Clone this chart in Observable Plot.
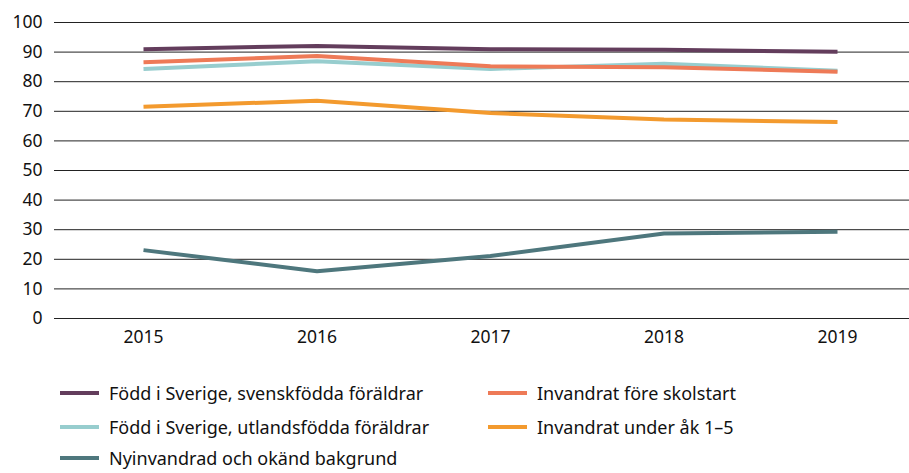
<!DOCTYPE html>
<html>
<head>
<meta charset="utf-8">
<script src="https://cdn.jsdelivr.net/npm/d3@7"></script>
<script src="https://cdn.jsdelivr.net/npm/@observablehq/plot@0.6"></script>
<style>
  html, body { margin: 0; padding: 0; background: #fff; }
  body { width: 909px; height: 473px; overflow: hidden; font-family: "Noto Sans", sans-serif; color: #111; }
  #legend { position: relative; height: 94px; margin-top: 23px; font-size: 18px; }
  .item { position: absolute; display: flex; align-items: center; height: 30px; line-height: 22px; white-space: nowrap; }
  .sw { width: 39px; height: 4px; margin-right: 10px; }
</style>
</head>
<body>
<div id="chart"></div>
<div id="legend"></div>
<script>
const years = [2015, 2016, 2017, 2018, 2019];
const seriesNames = [
  "Född i Sverige, svenskfödda föräldrar",
  "Född i Sverige, utlandsfödda föräldrar",
  "Invandrat före skolstart",
  "Invandrat under åk 1–5",
  "Nyinvandrad och okänd bakgrund"
];
const svenskfodda = [91.0, 92.1, 91.0, 90.8, 90.1];
const utlandsfodda = [84.3, 86.9, 84.3, 86.1, 83.7];
const foreSkolstart = [86.6, 88.7, 85.2, 84.9, 83.4];
const underAk15 = [71.5, 73.6, 69.4, 67.2, 66.4];
const nyinvandrad = [23.1, 16.0, 21.1, 28.7, 29.3];
const yTicks = [0, 10, 20, 30, 40, 50, 60, 70, 80, 90, 100];
const colors = ["#633d5c", "#97cdce", "#ee7a57", "#f39a2e", "#4e777d"];

const seriesValues = [svenskfodda, utlandsfodda, foreSkolstart, underAk15, nyinvandrad];
const data = seriesValues.flatMap((vals, i) =>
  years.map((yr, j) => ({year: yr, value: vals[j], series: seriesNames[i]})));

const plot = Plot.plot({
  width: 909,
  height: 355,
  marginLeft: 54,
  marginRight: 0,
  marginTop: 22,
  marginBottom: 37,
  style: {fontFamily: "Noto Sans, sans-serif", fontSize: "17.5px", color: "#111", background: "#fff"},
  x: {domain: [2014.487, 2019.415], ticks: years, tickFormat: d => String(d), tickSize: 0, tickPadding: 12, label: null},
  y: {domain: [0, 100], ticks: yTicks, tickSize: 0, tickPadding: 12, label: null},
  color: {domain: seriesNames, range: colors},
  marks: [
    Plot.ruleY(yTicks, {stroke: "#222", strokeWidth: 1}),
    Plot.line(data, {x: "year", y: "value", z: "series", stroke: "series", strokeWidth: 4, strokeLinecap: "butt", strokeLinejoin: "round"}),
  ]
});
document.getElementById("chart").appendChild(plot);

const legend = document.getElementById("legend");
const positions = [
  [60, 0], [60, 34], [488, 0], [488, 34], [60, 65]
];
seriesNames.forEach((name, i) => {
  const it = document.createElement("div");
  it.className = "item";
  it.style.left = positions[i][0] + "px";
  it.style.top = positions[i][1] + "px";
  const sw = document.createElement("span");
  sw.className = "sw";
  sw.style.background = colors[i];
  const tx = document.createElement("span");
  tx.textContent = name;
  it.appendChild(sw);
  it.appendChild(tx);
  legend.appendChild(it);
});
</script>
</body>
</html>
